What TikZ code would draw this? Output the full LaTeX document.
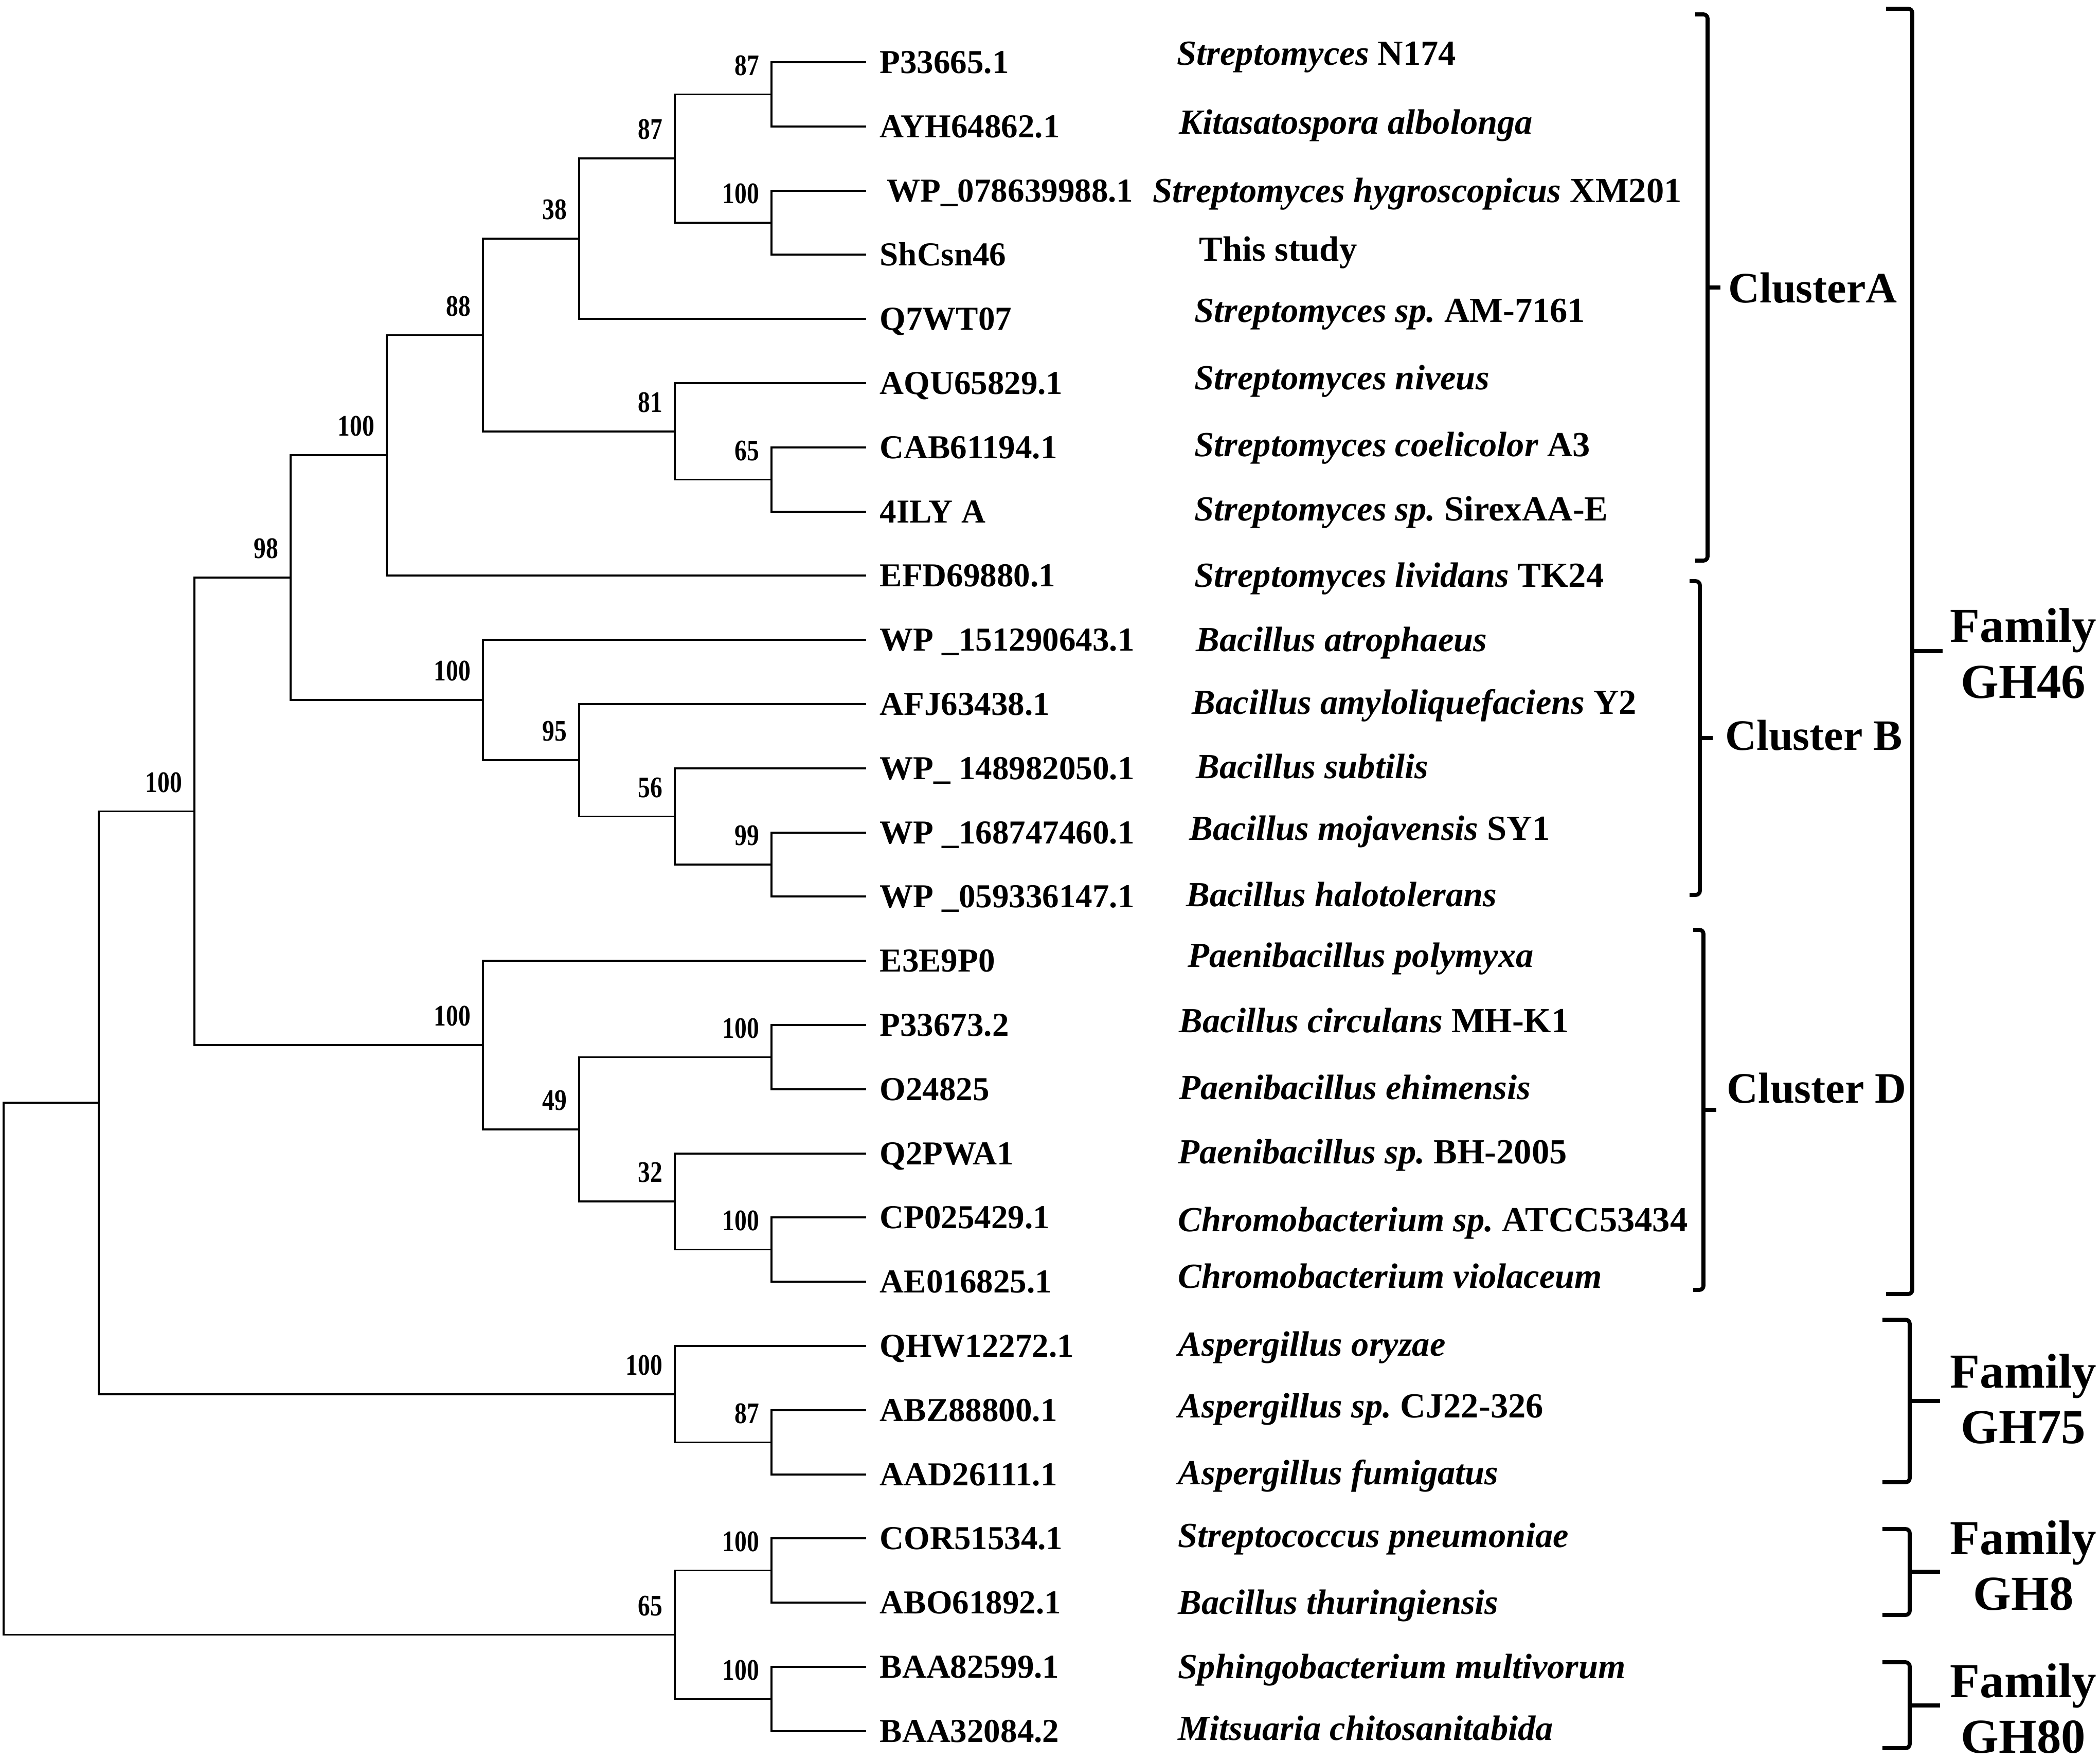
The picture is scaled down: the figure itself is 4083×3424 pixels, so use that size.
\documentclass[tikz,border=0pt]{standalone}
\usepackage{fontspec}
\setmainfont{Liberation Serif}
\newfontfamily\bootfont{Liberation Serif}[FakeStretch=0.82]
\usepackage{tikz}
\usetikzlibrary{positioning}
\frenchspacing
\tikzstyle{branch} = [line width=1.1pt, line cap=rect]
\tikzstyle{acc}    = [anchor=west, inner xsep=2.8mm, inner ysep=0pt, text height=12.2pt, text depth=0pt, font=\fontsize{18.5}{22}\selectfont\bfseries]
\tikzstyle{spec}   = [anchor=west, inner sep=0pt, text height=12.9pt, text depth=0pt, font=\fontsize{19.5}{23}\selectfont\bfseries]
\tikzstyle{boot}   = [anchor=south east, inner sep=0pt, xshift=-2.3mm, yshift=3.6mm, font=\bootfont\fontsize{16.5}{18}\selectfont\bfseries]
\tikzstyle{brk}    = [line width=2.2pt, rounded corners=0.8mm]
\tikzstyle{clus}   = [anchor=west, inner sep=0pt, font=\fontsize{24}{28}\selectfont\bfseries]
\tikzstyle{fam}    = [align=center, inner sep=0pt, font=\fontsize{27}{31}\selectfont\bfseries]

\begin{document}
\begin{tikzpicture}[x=0.1mm, y=-0.1mm]
    \useasboundingbox (0,0) rectangle (4083,3424);

    % inner nodes of the tree
    \coordinate (root)  at (   7, 2661);
    \coordinate (n1)    at ( 192, 2144);
    \coordinate (n100g) at ( 378, 1577.5);
    \coordinate (n98)   at ( 565, 1123);
    \coordinate (n100a) at ( 752,  885);
    \coordinate (n88)   at ( 939,  651.5);
    \coordinate (n38)   at (1126,  464);
    \coordinate (n87b)  at (1312,  308);
    \coordinate (n87a)  at (1500,  183.5);
    \coordinate (n100c) at (1500,  433);
    \coordinate (n81)   at (1312,  839);
    \coordinate (n65a)  at (1500,  932.5);
    \coordinate (n100b) at ( 939, 1361);
    \coordinate (n95)   at (1126, 1478);
    \coordinate (n56)   at (1312, 1587.5);
    \coordinate (n99)   at (1500, 1681);
    \coordinate (n100d) at ( 939, 2032);
    \coordinate (n49)   at (1126, 2196);
    \coordinate (n100e) at (1500, 2055.5);
    \coordinate (n32)   at (1312, 2336);
    \coordinate (n100f) at (1500, 2429.5);
    \coordinate (n100h) at (1312, 2711);
    \coordinate (n87c)  at (1500, 2804.5);
    \coordinate (n65b)  at (1312, 3178.5);
    \coordinate (n100i) at (1500, 3053.5);
    \coordinate (n100j) at (1500, 3303.5);

    % accession numbers
    \node (id1)  at (1682,  121) [acc] {P33665.1};
    \node (id2)  at (1682,  246) [acc] {AYH64862.1};
    \node (id3)  at (1682,  371) [acc] {\hspace{1.4mm}WP\_078639988.1};
    \node (id4)  at (1682,  495) [acc] {ShCsn46};
    \node (id5)  at (1682,  620) [acc] {Q7WT07};
    \node (id6)  at (1682,  745) [acc] {AQU65829.1};
    \node (id7)  at (1682,  870) [acc] {CAB61194.1};
    \node (id8)  at (1682,  995) [acc] {4ILY A};
    \node (id9)  at (1682, 1119) [acc] {EFD69880.1};
    \node (id10) at (1682, 1244) [acc] {WP \_151290643.1};
    \node (id11) at (1682, 1369) [acc] {AFJ63438.1};
    \node (id12) at (1682, 1494) [acc] {WP\_ 148982050.1};
    \node (id13) at (1682, 1619) [acc] {WP \_168747460.1};
    \node (id14) at (1682, 1743) [acc] {WP \_059336147.1};
    \node (id15) at (1682, 1868) [acc] {E3E9P0};
    \node (id16) at (1682, 1993) [acc] {P33673.2};
    \node (id17) at (1682, 2118) [acc] {O24825};
    \node (id18) at (1682, 2243) [acc] {Q2PWA1};
    \node (id19) at (1682, 2367) [acc] {CP025429.1};
    \node (id20) at (1682, 2492) [acc] {AE016825.1};
    \node (id21) at (1682, 2617) [acc] {QHW12272.1};
    \node (id22) at (1682, 2742) [acc] {ABZ88800.1};
    \node (id23) at (1682, 2867) [acc] {AAD26111.1};
    \node (id24) at (1682, 2991) [acc] {COR51534.1};
    \node (id25) at (1682, 3116) [acc] {ABO61892.1};
    \node (id26) at (1682, 3241) [acc] {BAA82599.1};
    \node (id27) at (1682, 3366) [acc] {BAA32084.2};

    % source organisms
    \node (sp1)  at (2288,  104) [spec] {\textit{Streptomyces} N174};
    \node (sp2)  at (2292,  238) [spec] {\textit{Kitasatospora albolonga}};
    \node (sp3)  at (2241,  371) [spec] {\textit{Streptomyces hygroscopicus} XM201};
    \node (sp4)  at (2331,  485) [spec] {This study};
    \node (sp5)  at (2322,  604) [spec] {\textit{Streptomyces sp.} AM-7161};
    \node (sp6)  at (2322,  735) [spec] {\textit{Streptomyces niveus}};
    \node (sp7)  at (2322,  865) [spec] {\textit{Streptomyces coelicolor} A3};
    \node (sp8)  at (2322,  990) [spec] {\textit{Streptomyces sp.} SirexAA-E};
    \node (sp9)  at (2322, 1119) [spec] {\textit{Streptomyces lividans} TK24};
    \node (sp10) at (2325, 1244) [spec] {\textit{Bacillus atrophaeus}};
    \node (sp11) at (2317, 1366) [spec] {\textit{Bacillus amyloliquefaciens} Y2};
    \node (sp12) at (2325, 1491) [spec] {\textit{Bacillus subtilis}};
    \node (sp13) at (2312, 1611) [spec] {\textit{Bacillus mojavensis} SY1};
    \node (sp14) at (2306, 1740) [spec] {\textit{Bacillus halotolerans}};
    \node (sp15) at (2309, 1858) [spec] {\textit{Paenibacillus polymyxa}};
    \node (sp16) at (2292, 1985) [spec] {\textit{Bacillus circulans} MH-K1};
    \node (sp17) at (2292, 2115) [spec] {\textit{Paenibacillus ehimensis}};
    \node (sp18) at (2290, 2240) [spec] {\textit{Paenibacillus sp.} BH-2005};
    \node (sp19) at (2290, 2372) [spec] {\textit{Chromobacterium sp.} ATCC53434};
    \node (sp20) at (2290, 2482) [spec] {\textit{Chromobacterium violaceum}};
    \node (sp21) at (2290, 2614) [spec] {\textit{Aspergillus oryzae}};
    \node (sp22) at (2290, 2734) [spec] {\textit{Aspergillus sp.} CJ22-326};
    \node (sp23) at (2290, 2864) [spec] {\textit{Aspergillus fumigatus}};
    \node (sp24) at (2290, 2986) [spec] {\textit{Streptococcus pneumoniae}};
    \node (sp25) at (2290, 3116) [spec] {\textit{Bacillus thuringiensis}};
    \node (sp26) at (2290, 3241) [spec] {\textit{Sphingobacterium multivorum}};
    \node (sp27) at (2290, 3361) [spec] {\textit{Mitsuaria chitosanitabida}};

    % branches
    \draw [branch] (root)  |- (n1);
    \draw [branch] (root)  |- (n65b);
    \draw [branch] (n1)    |- (n100g);
    \draw [branch] (n1)    |- (n100h);
    \draw [branch] (n100g) |- (n98);
    \draw [branch] (n100g) |- (n100d);
    \draw [branch] (n98)   |- (n100a);
    \draw [branch] (n98)   |- (n100b);
    \draw [branch] (n100a) |- (n88);
    \draw [branch] (n100a) |- (id9.west);
    \draw [branch] (n88)   |- (n38);
    \draw [branch] (n88)   |- (n81);
    \draw [branch] (n38)   |- (n87b);
    \draw [branch] (n38)   |- (id5.west);
    \draw [branch] (n87b)  |- (n87a);
    \draw [branch] (n87b)  |- (n100c);
    \draw [branch] (n87a)  |- (id1.west);
    \draw [branch] (n87a)  |- (id2.west);
    \draw [branch] (n100c) |- (id3.west);
    \draw [branch] (n100c) |- (id4.west);
    \draw [branch] (n81)   |- (id6.west);
    \draw [branch] (n81)   |- (n65a);
    \draw [branch] (n65a)  |- (id7.west);
    \draw [branch] (n65a)  |- (id8.west);
    \draw [branch] (n100b) |- (id10.west);
    \draw [branch] (n100b) |- (n95);
    \draw [branch] (n95)   |- (id11.west);
    \draw [branch] (n95)   |- (n56);
    \draw [branch] (n56)   |- (id12.west);
    \draw [branch] (n56)   |- (n99);
    \draw [branch] (n99)   |- (id13.west);
    \draw [branch] (n99)   |- (id14.west);
    \draw [branch] (n100d) |- (id15.west);
    \draw [branch] (n100d) |- (n49);
    \draw [branch] (n49)   |- (n100e);
    \draw [branch] (n49)   |- (n32);
    \draw [branch] (n100e) |- (id16.west);
    \draw [branch] (n100e) |- (id17.west);
    \draw [branch] (n32)   |- (id18.west);
    \draw [branch] (n32)   |- (n100f);
    \draw [branch] (n100f) |- (id19.west);
    \draw [branch] (n100f) |- (id20.west);
    \draw [branch] (n100h) |- (id21.west);
    \draw [branch] (n100h) |- (n87c);
    \draw [branch] (n87c)  |- (id22.west);
    \draw [branch] (n87c)  |- (id23.west);
    \draw [branch] (n65b)  |- (n100i);
    \draw [branch] (n65b)  |- (n100j);
    \draw [branch] (n100i) |- (id24.west);
    \draw [branch] (n100i) |- (id25.west);
    \draw [branch] (n100j) |- (id26.west);
    \draw [branch] (n100j) |- (id27.west);

    % bootstrap values
    \node (b100g) at (n100g) [boot] {100};
    \node (b98)   at (n98)   [boot] {98};
    \node (b100a) at (n100a) [boot] {100};
    \node (b88)   at (n88)   [boot] {88};
    \node (b38)   at (n38)   [boot] {38};
    \node (b87b)  at (n87b)  [boot] {87};
    \node (b87a)  at (n87a)  [boot] {87};
    \node (b100c) at (n100c) [boot] {100};
    \node (b81)   at (n81)   [boot] {81};
    \node (b65a)  at (n65a)  [boot] {65};
    \node (b100b) at (n100b) [boot] {100};
    \node (b95)   at (n95)   [boot] {95};
    \node (b56)   at (n56)   [boot] {56};
    \node (b99)   at (n99)   [boot] {99};
    \node (b100d) at (n100d) [boot] {100};
    \node (b49)   at (n49)   [boot] {49};
    \node (b100e) at (n100e) [boot] {100};
    \node (b32)   at (n32)   [boot] {32};
    \node (b100f) at (n100f) [boot] {100};
    \node (b100h) at (n100h) [boot] {100};
    \node (b87c)  at (n87c)  [boot] {87};
    \node (b65b)  at (n65b)  [boot] {65};
    \node (b100i) at (n100i) [boot] {100};
    \node (b100j) at (n100j) [boot] {100};

    % cluster brackets
    \coordinate (aT) at (3320,   28);
    \coordinate (aB) at (3320, 1090);
    \coordinate (aM) at (3320,  559);
    \coordinate (bT) at (3305, 1130);
    \coordinate (bB) at (3305, 1740);
    \coordinate (bM) at (3305, 1435);
    \coordinate (dT) at (3312, 1808);
    \coordinate (dB) at (3312, 2508);
    \coordinate (dM) at (3312, 2158);
    \draw [brk] (aT) ++(-24,0) -- (aT) -- (aB) -- ++(-24,0);
    \draw [brk] (bT) ++(-20,0) -- (bT) -- (bB) -- ++(-20,0);
    \draw [brk] (dT) ++(-20,0) -- (dT) -- (dB) -- ++(-20,0);
    \draw [brk] (aM) -- ++(25,0);
    \draw [brk] (bM) -- ++(25,0);
    \draw [brk] (dM) -- ++(25,0);
    \node (cA) at (3360,  560) [clus] {ClusterA};
    \node (cB) at (3354, 1430) [clus] {Cluster B};
    \node (cD) at (3357, 2116) [clus] {Cluster D};

    % family brackets
    \coordinate (g46T) at (3718,   17);
    \coordinate (g46B) at (3718, 2516);
    \coordinate (g46M) at (3718, 1266);
    \coordinate (g75T) at (3713, 2566);
    \coordinate (g75B) at (3713, 2882);
    \coordinate (g75M) at (3713, 2724);
    \coordinate (g8T)  at (3713, 2973);
    \coordinate (g8B)  at (3713, 3140);
    \coordinate (g8M)  at (3713, 3056);
    \coordinate (g80T) at (3713, 3232);
    \coordinate (g80B) at (3713, 3399);
    \coordinate (g80M) at (3713, 3316);
    \draw [brk] (g46T) ++(-51,0) -- (g46T) -- (g46B) -- ++(-51,0);
    \draw [brk] (g75T) ++(-53,0) -- (g75T) -- (g75B) -- ++(-53,0);
    \draw [brk] (g8T)  ++(-53,0) -- (g8T)  -- (g8B)  -- ++(-53,0);
    \draw [brk] (g80T) ++(-53,0) -- (g80T) -- (g80B) -- ++(-53,0);
    \draw [brk] (g46M) -- ++(59,0);
    \draw [brk] (g75M) -- ++(59,0);
    \draw [brk] (g8M)  -- ++(59,0);
    \draw [brk] (g80M) -- ++(59,0);
    \node (f46) at (3934, 1271) [fam] {Family\\GH46};
    \node (f75) at (3934, 2720) [fam] {Family\\GH75};
    \node (f8)  at (3934, 3044) [fam] {Family\\GH8};
    \node (f80) at (3934, 3322) [fam] {Family\\GH80};
\end{tikzpicture}
\end{document}
